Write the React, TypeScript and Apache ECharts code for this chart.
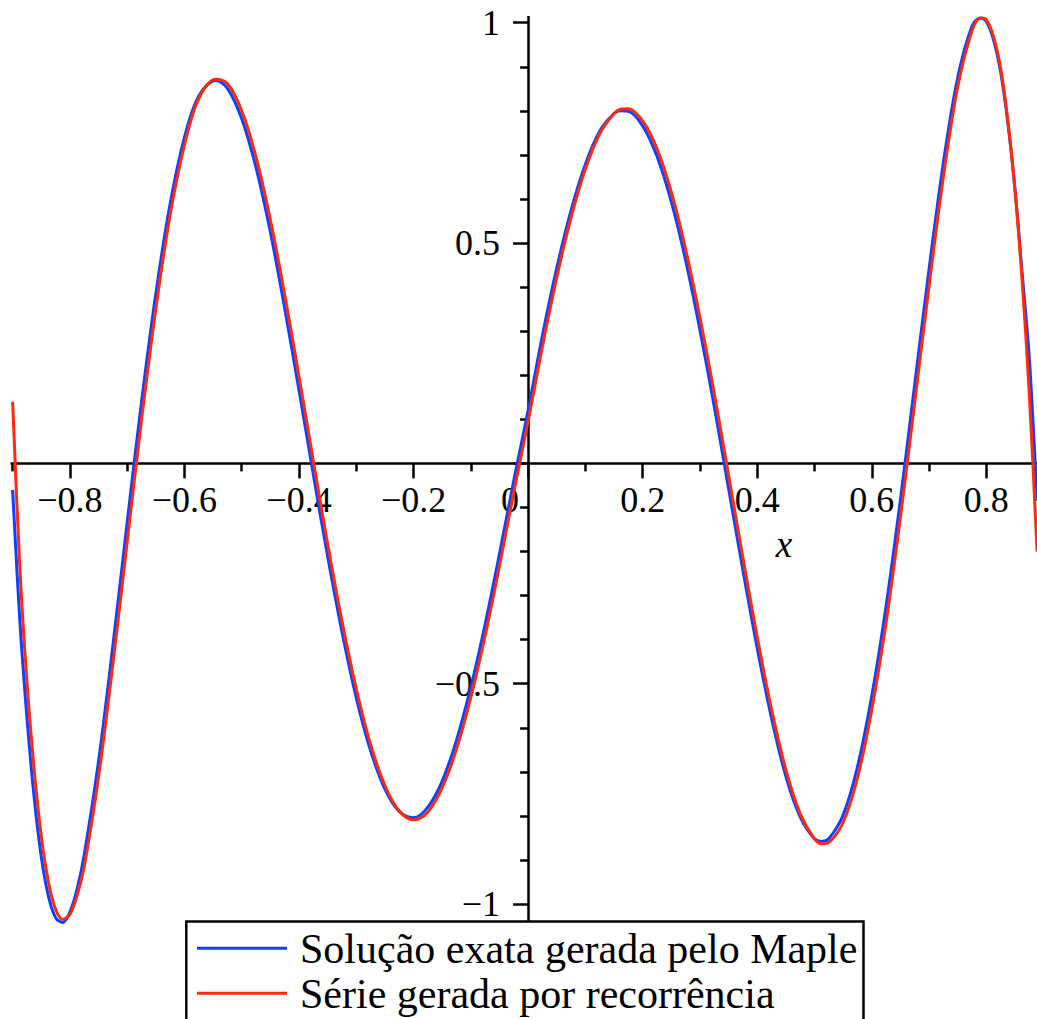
import React, { useEffect, useRef } from "react";
import * as echarts from "echarts";

const xs = [
  -0.9, -0.8875, -0.875, -0.8625, -0.85, -0.8375, -0.825, -0.8125, -0.8, -0.7875, -0.775,
  -0.75, -0.725, -0.7, -0.675, -0.65, -0.625, -0.6, -0.575, -0.545, -0.525, -0.5, -0.475,
  -0.45, -0.425, -0.4, -0.375, -0.35, -0.325, -0.3, -0.275, -0.25, -0.225, -0.2, -0.175,
  -0.15, -0.125, -0.1, -0.075, -0.05, -0.025, 0, 0.025, 0.05, 0.075, 0.1, 0.125, 0.15,
  0.1625, 0.175, 0.2, 0.225, 0.25, 0.275, 0.3, 0.325, 0.35, 0.375, 0.4, 0.425, 0.45, 0.475,
  0.5, 0.5125, 0.525, 0.55, 0.575, 0.6, 0.625, 0.65, 0.675, 0.7, 0.725, 0.75, 0.775, 0.79,
  0.8, 0.8125, 0.825, 0.8375, 0.85, 0.8625, 0.875, 0.8887,
];

// "Solução exata gerada pelo Maple" (blue)
const exactValues = [
  -0.06, -0.355, -0.577, -0.757, -0.893, -0.982, -1.031, -1.042, -1.018, -0.966, -0.888,
  -0.676, -0.414, -0.134, 0.139, 0.385, 0.589, 0.74, 0.834, 0.869, 0.851, 0.782, 0.671,
  0.525, 0.352, 0.166, -0.025, -0.211, -0.382, -0.532, -0.652, -0.739, -0.79, -0.804, -0.78,
  -0.721, -0.628, -0.508, -0.365, -0.206, -0.039, 0.12, 0.29, 0.443, 0.574, 0.679, 0.754,
  0.794, 0.8, 0.799, 0.766, 0.697, 0.594, 0.461, 0.303, 0.129, -0.057, -0.242, -0.419,
  -0.578, -0.71, -0.802, -0.852, -0.858, -0.852, -0.798, -0.689, -0.528, -0.324, -0.083,
  0.179, 0.44, 0.682, 0.875, 0.992, 1.011, 1.003, 0.962, 0.888, 0.774, 0.624, 0.434, 0.24,
  -0.085,
];

// "Série gerada por recorrência" (red)
const seriesValues = [
  0.14, -0.234, -0.496, -0.694, -0.846, -0.95, -1.012, -1.035, -1.023, -0.981, -0.915,
  -0.712, -0.456, -0.178, 0.098, 0.351, 0.564, 0.723, 0.828, 0.872, 0.862, 0.8, 0.695,
  0.553, 0.383, 0.197, 0.005, -0.183, -0.358, -0.512, -0.638, -0.731, -0.789, -0.809, -0.791,
  -0.736, -0.648, -0.531, -0.391, -0.233, -0.065, 0.095, 0.265, 0.422, 0.558, 0.668, 0.748,
  0.794, 0.804, 0.805, 0.777, 0.714, 0.616, 0.486, 0.331, 0.159, -0.027, -0.214, -0.394,
  -0.558, -0.695, -0.795, -0.852, -0.863, -0.86, -0.815, -0.714, -0.559, -0.361, -0.123,
  0.138, 0.402, 0.65, 0.854, 0.982, 1.011, 1.007, 0.969, 0.897, 0.779, 0.621, 0.416, 0.16,
  -0.2,
];

const legendLabels = ["Solução exata gerada pelo Maple", "Série gerada por recorrência"];
const axisTitle = "x";

const xMajorStep = 0.2;
const yMajorStep = 0.5;

const BLUE = "#1040ff";
const RED = "#ff2a0a";
const FONT = '"Liberation Serif", "Times New Roman", serif';

// plot frame (pixels) so that x=-0.9 sits at 12.6 px and y=1 at 22.7 px
const GRID_LEFT = -44.65;
const GRID_TOP = -197.6;
const GRID_W = 1145.5;
const GRID_H = 1321.95;

function xLabel(v: number): string {
  const r = Math.round(v * 10) / 10;
  if (Math.abs(r) >= 0.95) return "";
  if (r === 0) return "{z|0}";
  return (r < 0 ? "\u2212" : "") + Math.abs(r).toFixed(1);
}

function yLabel(v: number): string {
  const r = Math.round(v * 10) / 10;
  if (r === 0 || Math.abs(r) > 1.05) return "";
  return (r < 0 ? "\u2212" : "") + String(Math.abs(r));
}

export default function App() {
  const ref = useRef<HTMLDivElement>(null);

  useEffect(() => {
    if (!ref.current) return;
    const chart = echarts.init(ref.current, undefined, { renderer: "svg" });

    const blueData = xs.map((x, i) => [x, exactValues[i]]);
    const redData = xs.map((x, i) => [x, seriesValues[i]]);

    // put the axes through the origin: x axis at y=0, y axis at x=0
    const xMin = -1.0, xMax = 1.0, yMin = -1.5, yMax = 1.5;
    const zeroY = GRID_TOP + GRID_H * (yMax / (yMax - yMin));
    const zeroX = GRID_LEFT + GRID_W * (-xMin / (xMax - xMin));
    const xOffset = -(GRID_TOP + GRID_H - zeroY);
    const yOffset = -(zeroX - GRID_LEFT);

    const axisColor = "#000";
    const axisW = 2.5;

    chart.setOption({
      animation: false,
      backgroundColor: "#ffffff",
      grid: {
        left: GRID_LEFT,
        top: GRID_TOP,
        width: GRID_W,
        height: GRID_H,
        containLabel: false,
        outerBoundsMode: "none",
      },
      xAxis: {
        type: "value",
        position: "bottom",
        offset: xOffset,
        min: xMin,
        max: xMax,
        interval: xMajorStep,
        axisLine: { show: true, onZero: false, lineStyle: { color: axisColor, width: axisW } },
        axisTick: { show: true, length: 15, lineStyle: { color: axisColor, width: axisW } },
        minorTick: { show: true, splitNumber: 2, length: 8, lineStyle: { color: axisColor, width: axisW } },
        splitLine: { show: false },
        minorSplitLine: { show: false },
        axisLabel: {
          show: true,
          margin: 19,
          color: "#000",
          fontFamily: FONT,
          fontSize: 36,
          lineHeight: 36,
          formatter: xLabel,
          rich: {
            z: {
              fontFamily: FONT,
              fontSize: 36,
              lineHeight: 36,
              color: "#000",
              padding: [0, 36, 0, 0],
            },
          },
        },
      },
      yAxis: {
        type: "value",
        position: "left",
        offset: yOffset,
        min: yMin,
        max: yMax,
        interval: yMajorStep,
        axisLine: { show: true, onZero: false, lineStyle: { color: axisColor, width: axisW } },
        axisTick: { show: true, length: 15, lineStyle: { color: axisColor, width: axisW } },
        minorTick: { show: true, splitNumber: 5, length: 8, lineStyle: { color: axisColor, width: axisW } },
        splitLine: { show: false },
        minorSplitLine: { show: false },
        axisLabel: {
          show: true,
          margin: 28,
          color: "#000",
          fontFamily: FONT,
          fontSize: 36,
          formatter: yLabel,
        },
      },
      series: [
        {
          name: legendLabels[0],
          type: "line",
          data: blueData,
          showSymbol: false,
          symbol: "none",
          smooth: 0.34,
          lineStyle: { color: BLUE, width: 3 },
          z: 3,
        },
        {
          name: legendLabels[1],
          type: "line",
          data: redData,
          showSymbol: false,
          symbol: "none",
          smooth: 0.34,
          lineStyle: { color: RED, width: 3 },
          z: 4,
        },
      ],
      graphic: [
        // trim the axis lines where the original plot ends
        { type: "rect", z: 50, shape: { x: 0, y: 457, width: 10.5, height: 13 }, style: { fill: "#fff" } },
        { type: "rect", z: 50, shape: { x: 518, y: 0, width: 20, height: 16 }, style: { fill: "#fff" } },
        {
          type: "text",
          z: 60,
          x: 784,
          y: 544,
          style: {
            text: axisTitle,
            fontFamily: FONT,
            fontSize: 37,
            fontStyle: "italic",
            fill: "#000",
            align: "center",
            verticalAlign: "middle",
          },
        },
        {
          type: "rect",
          z: 100,
          shape: { x: 186.3, y: 921.4, width: 677.2, height: 130 },
          style: { fill: "#fff", stroke: "#000", lineWidth: 2.5 },
        },
        {
          type: "line",
          z: 101,
          shape: { x1: 197, y1: 948.3, x2: 287, y2: 948.3 },
          style: { stroke: BLUE, lineWidth: 3 },
        },
        {
          type: "line",
          z: 101,
          shape: { x1: 197, y1: 993.3, x2: 287, y2: 993.3 },
          style: { stroke: RED, lineWidth: 3 },
        },
        {
          type: "text",
          z: 101,
          x: 300,
          y: 949,
          style: {
            text: legendLabels[0],
            fontFamily: FONT,
            fontSize: 42,
            fill: "#000",
            align: "left",
            verticalAlign: "middle",
          },
        },
        {
          type: "text",
          z: 101,
          x: 300,
          y: 993.5,
          style: {
            text: legendLabels[1],
            fontFamily: FONT,
            fontSize: 42,
            fill: "#000",
            align: "left",
            verticalAlign: "middle",
          },
        },
      ],
    });

    return () => {
      chart.dispose();
    };
  }, []);

  return (
    <div
      ref={ref}
      style={{ position: "absolute", left: 0, top: 0, width: 1037, height: 1019, background: "#fff" }}
    />
  );
}
